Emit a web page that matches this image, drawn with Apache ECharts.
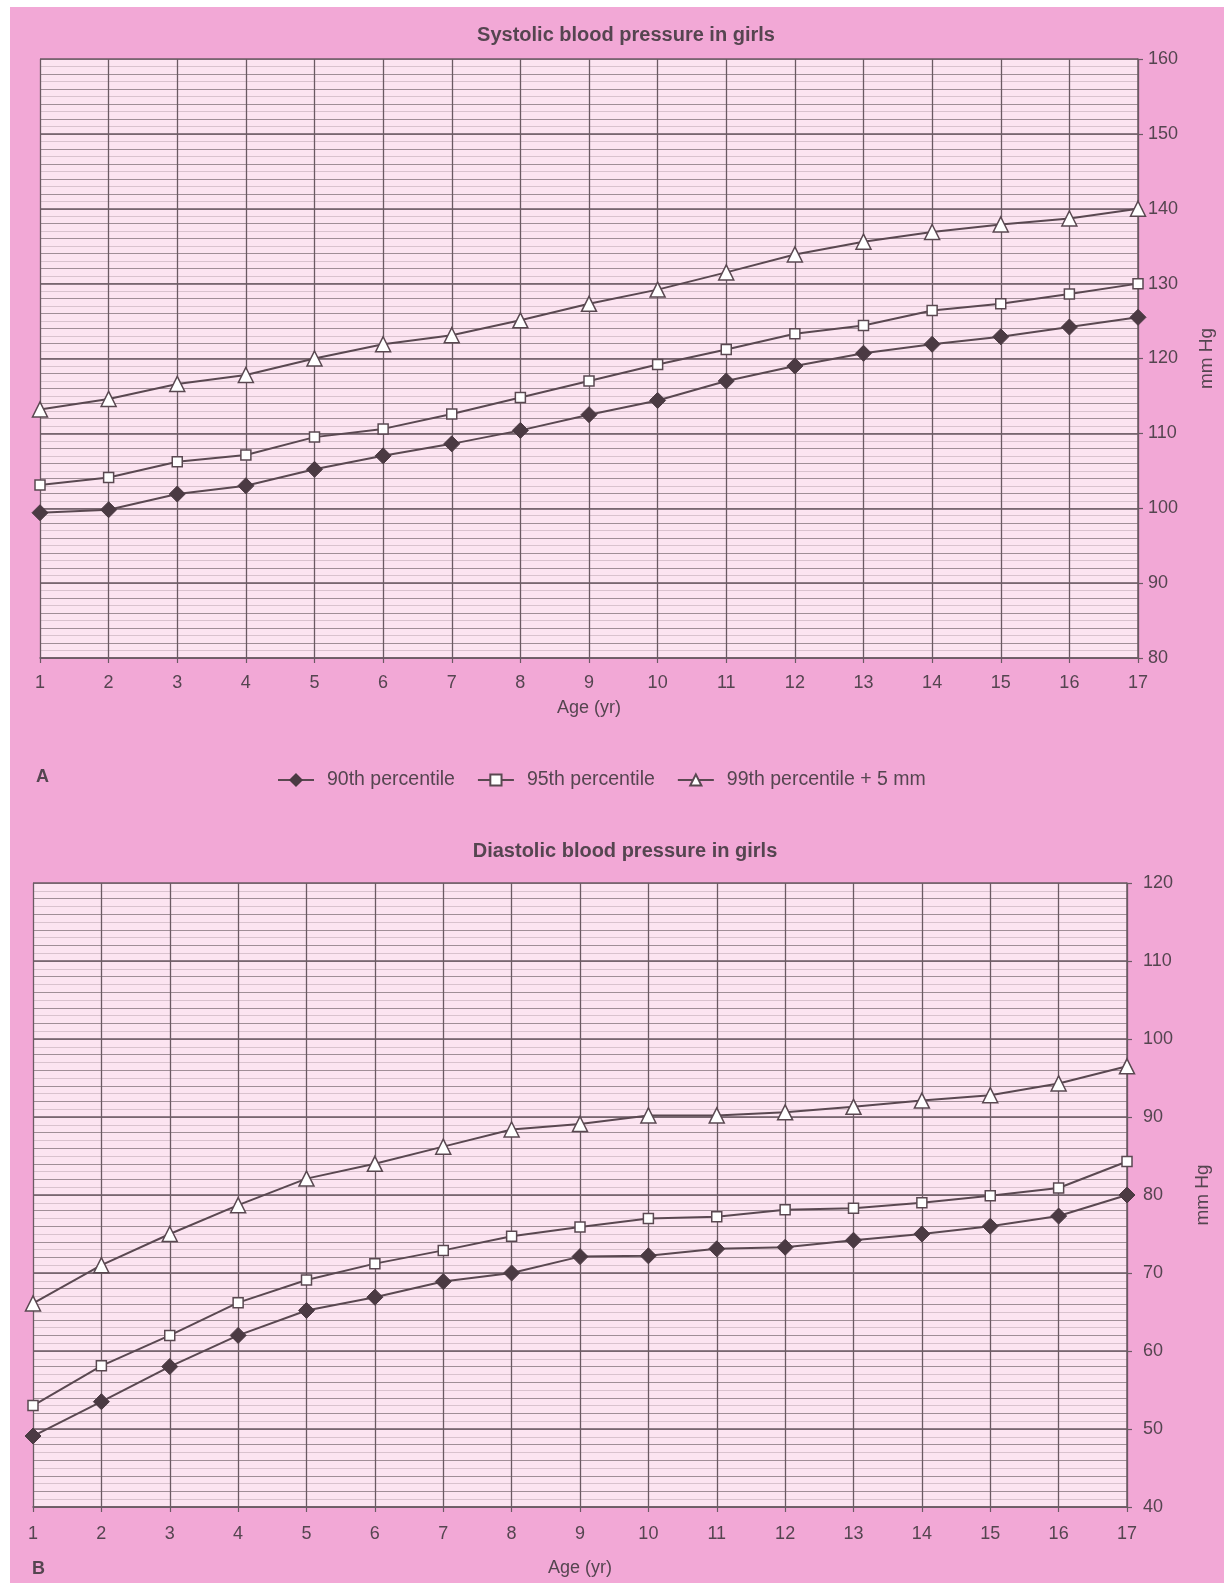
<!DOCTYPE html>
<html><head><meta charset="utf-8">
<script src="https://cdn.jsdelivr.net/npm/echarts@6/dist/echarts.min.js"></script>
<style>
html,body{margin:0;padding:0;background:#fff;width:1224px;height:1583px;overflow:hidden;}
#bg{position:absolute;left:10px;top:7px;width:1214px;height:1576px;background:#f2a8d6;}
#chart{position:absolute;left:0;top:0;width:1224px;height:1583px;}
</style></head><body>
<div id="bg"></div><div id="chart"></div>
<script>
// ---- data ----
const ages = [1,2,3,4,5,6,7,8,9,10,11,12,13,14,15,16,17];
const seriesNames = ['90th percentile', '95th percentile', '99th percentile + 5 mm'];
const sys90 = [99.4, 99.8, 101.9, 103.0, 105.2, 107.0, 108.6, 110.4, 112.5, 114.4, 117.0, 119.0, 120.7, 121.9, 122.9, 124.2, 125.5];
const sys95 = [103.1, 104.1, 106.2, 107.1, 109.5, 110.6, 112.6, 114.8, 117.0, 119.2, 121.2, 123.3, 124.4, 126.4, 127.3, 128.6, 130.0];
const sys99 = [113.2, 114.6, 116.6, 117.8, 120.0, 121.9, 123.1, 125.1, 127.3, 129.2, 131.5, 133.9, 135.6, 136.9, 137.9, 138.7, 140.0];
const dia90 = [49.1, 53.5, 58.0, 62.0, 65.2, 66.9, 68.9, 70.0, 72.1, 72.2, 73.1, 73.3, 74.2, 75.0, 76.0, 77.3, 80.0];
const dia95 = [53.0, 58.1, 62.0, 66.2, 69.1, 71.2, 72.9, 74.7, 75.9, 77.0, 77.2, 78.1, 78.3, 79.0, 79.9, 80.9, 84.3];
const dia99 = [66.1, 71.0, 75.0, 78.7, 82.1, 84.0, 86.2, 88.4, 89.1, 90.2, 90.2, 90.6, 91.3, 92.1, 92.8, 94.3, 96.5];
const sysTitle = 'Systolic blood pressure in girls';
const diaTitle = 'Diastolic blood pressure in girls';

// ---- styles ----
const FONT = "'Liberation Sans', Arial, Helvetica, sans-serif";
const TXT = '#554550';
const LINE = '#5a4851';
const GRID_MAJOR = '#6b5a63';
const GRID_MID = '#a08e97';
const GRID_FAINT = '#d9c2ce';
const PLOT_BG = '#fce4f1';

const pair = arr => ages.map((a, i) => [a, arr[i]]);

function xAxis(gi, margin, nameGap) {
  return {
    gridIndex: gi, type: 'value', min: 1, max: 17, interval: 1,
    axisLine: { show: true, lineStyle: { color: GRID_MAJOR, width: 1.5 } },
    axisTick: { show: true, length: 5, lineStyle: { color: GRID_MAJOR, width: 1.2 } },
    axisLabel: { color: TXT, fontSize: 18, fontFamily: FONT, margin: margin },
    splitLine: { show: true, lineStyle: { color: GRID_MAJOR, width: 1.3 } },
    name: 'Age (yr)', nameLocation: 'middle', nameGap: nameGap,
    nameTextStyle: { color: TXT, fontSize: 18, fontFamily: FONT }
  };
}
function yHidden(gi, min, max) {
  return {
    gridIndex: gi, type: 'value', position: 'right', min: min, max: max, interval: 2,
    axisLine: { show: false }, axisTick: { show: false }, axisLabel: { show: false },
    splitLine: { show: true, lineStyle: { color: GRID_MID, width: 1 } },
    minorTick: { show: false, splitNumber: 2 },
    minorSplitLine: { show: true, lineStyle: { color: GRID_FAINT, width: 1 } }
  };
}
function yMain(gi, min, max, margin, nameGap) {
  return {
    gridIndex: gi, type: 'value', position: 'right', min: min, max: max, interval: 10,
    axisLine: { show: true, lineStyle: { color: GRID_MAJOR, width: 1.5 } },
    axisTick: { show: true, length: 5, lineStyle: { color: GRID_MAJOR, width: 1.2 } },
    axisLabel: { color: TXT, fontSize: 18, fontFamily: FONT, margin: margin },
    splitLine: { show: true, lineStyle: { color: GRID_MAJOR, width: 1.5 } },
    name: 'mm Hg', nameLocation: 'middle', nameRotate: 90, nameGap: nameGap,
    nameTextStyle: { color: TXT, fontSize: 19, fontFamily: FONT }
  };
}
function makeSeries(name, data, xi, yi, kind) {
  const base = {
    name: name, type: 'line', data: pair(data), xAxisIndex: xi, yAxisIndex: yi,
    lineStyle: { color: LINE, width: 2 }, z: 5, animation: false
  };
  if (kind === 'diamond') {
    base.symbol = 'diamond'; base.symbolSize = 16;
    base.itemStyle = { color: '#4b3a43', borderColor: '#4b3a43', borderWidth: 1 };
  } else if (kind === 'rect') {
    base.symbol = 'rect'; base.symbolSize = 10;
    base.itemStyle = { color: '#ffffff', borderColor: LINE, borderWidth: 1.5 };
  } else {
    base.symbol = 'triangle'; base.symbolSize = 15;
    base.itemStyle = { color: '#ffffff', borderColor: LINE, borderWidth: 1.5 };
  }
  return base;
}

const chart = echarts.init(document.getElementById('chart'), null, { renderer: 'canvas' });
chart.setOption({
  backgroundColor: 'transparent',
  animation: false,
  title: [
    { text: sysTitle, left: 621, top: 20, textAlign: 'center',
      textStyle: { fontSize: 20, fontWeight: 'bold', color: TXT, fontFamily: FONT } },
    { text: diaTitle, left: 620, top: 836, textAlign: 'center',
      textStyle: { fontSize: 20, fontWeight: 'bold', color: TXT, fontFamily: FONT } }
  ],
  legend: {
    data: seriesNames, left: 272, top: 765, itemWidth: 36, itemHeight: 14, itemGap: 22,
    textStyle: { fontSize: 19.5, color: TXT, fontFamily: FONT, padding: [0, 0, 0, 8] }
  },
  grid: [
    { left: 40, top: 59, width: 1100, height: 599, show: true, backgroundColor: PLOT_BG, borderWidth: 0 },
    { left: 33, top: 883, width: 1094, height: 624, show: true, backgroundColor: PLOT_BG, borderWidth: 0 }
  ],
  xAxis: [xAxis(0, 16, 41), xAxis(1, 18, 52)],
  yAxis: [yHidden(0, 80, 160), yMain(0, 80, 160, 10, 59), yHidden(1, 40, 120), yMain(1, 40, 120, 16, 66)],
  graphic: [
    { type: 'text', left: 36, top: 768, style: { text: 'A', fontSize: 18, fontWeight: 'bold', fill: TXT, fontFamily: FONT } },
    { type: 'text', left: 32, top: 1560, style: { text: 'B', fontSize: 18, fontWeight: 'bold', fill: TXT, fontFamily: FONT } }
  ],
  series: [
    makeSeries(seriesNames[2], sys99, 0, 1, 'triangle'),
    makeSeries(seriesNames[1], sys95, 0, 1, 'rect'),
    makeSeries(seriesNames[0], sys90, 0, 1, 'diamond'),
    makeSeries(seriesNames[2], dia99, 1, 3, 'triangle'),
    makeSeries(seriesNames[1], dia95, 1, 3, 'rect'),
    makeSeries(seriesNames[0], dia90, 1, 3, 'diamond')
  ]
});
</script>
</body></html>
